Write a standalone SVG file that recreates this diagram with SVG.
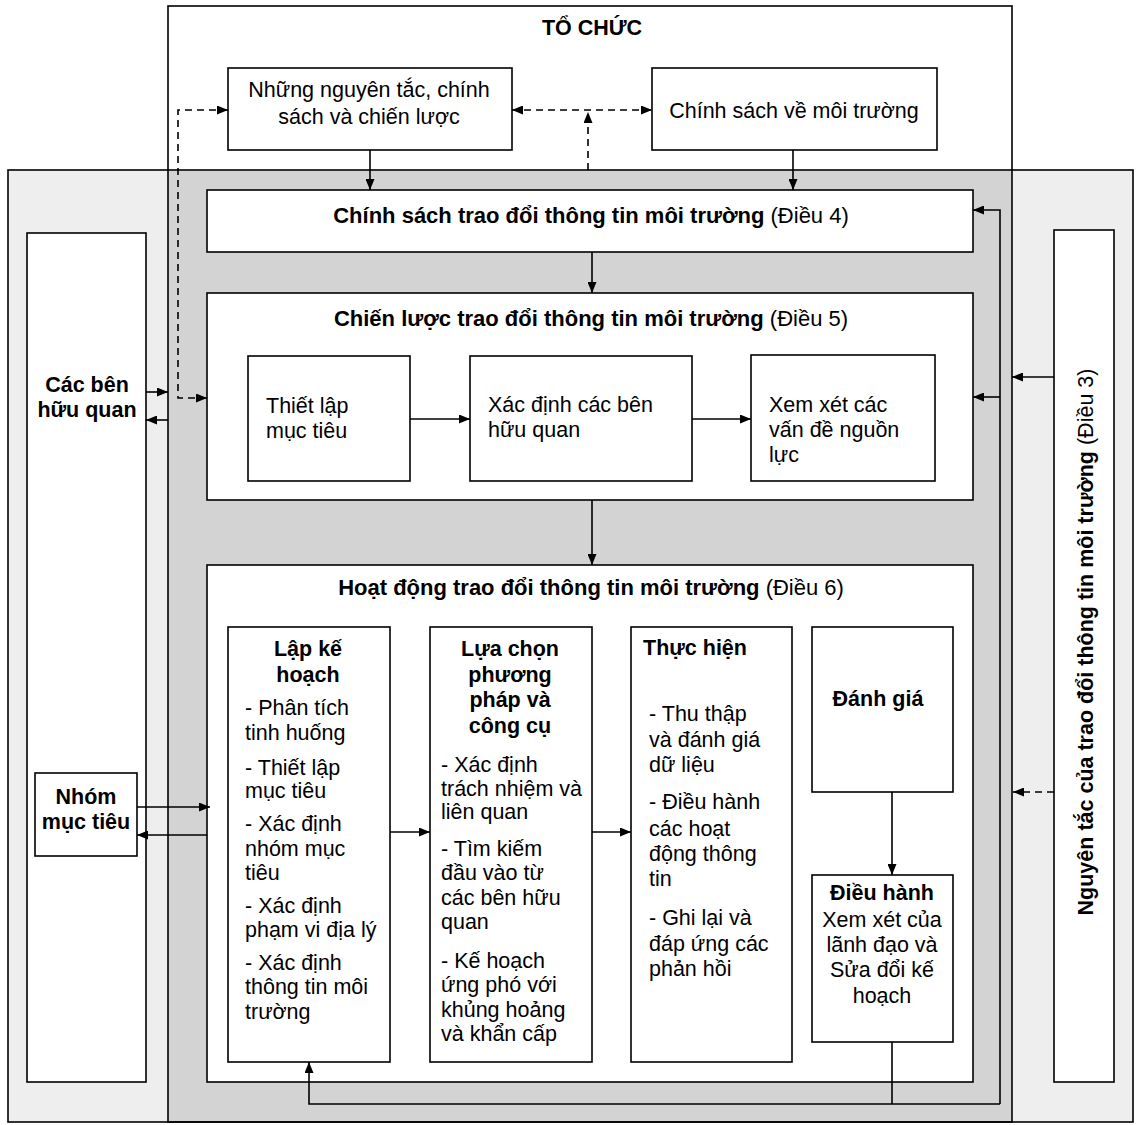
<svg xmlns="http://www.w3.org/2000/svg" width="1138" height="1125" viewBox="0 0 1138 1125">
<defs>
<style>
.box{fill:#fff;stroke:#000;stroke-width:1.6}
.ln{fill:none;stroke:#000;stroke-width:1.6}
.dash{stroke-dasharray:7 5}
text{font-family:"Liberation Sans",Arial,sans-serif;font-size:21.5px;fill:#000}
.b{font-weight:bold}
.h{font-size:22px}
.m{text-anchor:middle}
</style>
<marker id="ah" viewBox="0 0 11 9" refX="11" refY="4.5" markerWidth="11" markerHeight="9" markerUnits="userSpaceOnUse" orient="auto-start-reverse"><path d="M0,0 L11,4.5 L0,9 z" fill="#000"/></marker>
</defs>
<rect x="0" y="0" width="1138" height="1125" fill="#fff"/>
<g id="background">
<rect x="8" y="170" width="1125" height="952" fill="#eeeeee" stroke="#000" stroke-width="1.6"/>
<rect x="168" y="171" width="844" height="950" fill="#d3d3d3"/>
<rect x="168" y="6" width="844" height="1116" fill="none" stroke="#000" stroke-width="1.6"/>
<text class="b m" x="592" y="35">TỔ CHỨC</text>
</g>
<g id="nguyen-tac-chinh-sach">
<rect class="box" x="228" y="68" width="284" height="82"/>
<text class="m" x="369" y="97">Những nguyên tắc, chính</text>
<text class="m" x="369" y="124">sách và chiến lược</text>
</g>
<g id="chinh-sach-moi-truong">
<rect class="box" x="652" y="68" width="285" height="82"/>
<text class="m" x="794" y="118">Chính sách về môi trường</text>
</g>
<g id="chinh-sach-trao-doi">
<rect class="box" x="207" y="190" width="766" height="62"/>
<text class="m h" x="591" y="223"><tspan class="b">Chính sách trao đổi thông tin môi trường</tspan> (Điều 4)</text>
</g>
<g id="chien-luoc">
<rect class="box" x="207" y="293" width="766" height="207"/>
<text class="m h" x="591" y="326"><tspan class="b">Chiến lược trao đổi thông tin môi trường</tspan> (Điều 5)</text>
</g>
<g id="thiet-lap-muc-tieu">
<rect class="box" x="248" y="356" width="162" height="125"/>
<text x="266" y="413">Thiết lập</text>
<text x="266" y="438">mục tiêu</text>
</g>
<g id="xac-dinh-ben-huu-quan">
<rect class="box" x="470" y="356" width="222" height="125"/>
<text x="488" y="412">Xác định các bên</text>
<text x="488" y="437">hữu quan</text>
</g>
<g id="xem-xet-nguon-luc">
<rect class="box" x="751" y="355" width="184" height="126"/>
<text x="769" y="412">Xem xét các</text>
<text x="769" y="437">vấn đề nguồn</text>
<text x="769" y="462">lực</text>
</g>
<g id="hoat-dong">
<rect class="box" x="207" y="565" width="766" height="517"/>
<text class="m h" x="591" y="595"><tspan class="b">Hoạt động trao đổi thông tin môi trường</tspan> (Điều 6)</text>
</g>
<g id="lap-ke-hoach">
<rect class="box" x="228" y="627" width="162" height="435"/>
<text class="b m" x="308" y="656">Lập kế</text>
<text class="b m" x="308" y="682">hoạch</text>
<text x="245" y="715">- Phân tích</text>
<text x="245" y="740">tinh huống</text>
<text x="245" y="775">- Thiết lập</text>
<text x="245" y="798">mục tiêu</text>
<text x="245" y="831">- Xác định</text>
<text x="245" y="856">nhóm mục</text>
<text x="245" y="880">tiêu</text>
<text x="245" y="913">- Xác định</text>
<text x="245" y="937">phạm vi địa lý</text>
<text x="245" y="970">- Xác định</text>
<text x="245" y="994">thông tin môi</text>
<text x="245" y="1019">trường</text>
</g>
<g id="lua-chon">
<rect class="box" x="430" y="627" width="162" height="435"/>
<text class="b m" x="510" y="656">Lựa chọn</text>
<text class="b m" x="510" y="682">phương</text>
<text class="b m" x="510" y="707">pháp và</text>
<text class="b m" x="510" y="733">công cụ</text>
<text x="441" y="772">- Xác định</text>
<text x="441" y="796">trách nhiệm và</text>
<text x="441" y="819">liên quan</text>
<text x="441" y="856">- Tìm kiếm</text>
<text x="441" y="880">đầu vào từ</text>
<text x="441" y="905">các bên hữu</text>
<text x="441" y="929">quan</text>
<text x="441" y="968">- Kế hoạch</text>
<text x="441" y="992">ứng phó với</text>
<text x="441" y="1017">khủng hoảng</text>
<text x="441" y="1041">và khẩn cấp</text>
</g>
<g id="thuc-hien">
<rect class="box" x="631" y="627" width="161" height="435"/>
<text class="b" x="643" y="655">Thực hiện</text>
<text x="649" y="721">- Thu thập</text>
<text x="649" y="747">và đánh giá</text>
<text x="649" y="772">dữ liệu</text>
<text x="649" y="809">- Điều hành</text>
<text x="649" y="836">các hoạt</text>
<text x="649" y="861">động thông</text>
<text x="649" y="886">tin</text>
<text x="649" y="925">- Ghi lại và</text>
<text x="649" y="951">đáp ứng các</text>
<text x="649" y="976">phản hồi</text>
</g>
<g id="danh-gia">
<rect class="box" x="812" y="627" width="141" height="165"/>
<text class="b m" x="878" y="706">Đánh giá</text>
</g>
<g id="dieu-hanh">
<rect class="box" x="812" y="875" width="141" height="167"/>
<text class="b m" x="882" y="900">Điều hành</text>
<text class="m" x="882" y="927">Xem xét của</text>
<text class="m" x="882" y="952">lãnh đạo và</text>
<text class="m" x="882" y="977">Sửa đổi kế</text>
<text class="m" x="882" y="1003">hoạch</text>
</g>
<g id="cac-ben-huu-quan">
<rect class="box" x="27" y="233" width="119" height="849"/>
<text class="b m" x="87" y="392">Các bên</text>
<text class="b m" x="87" y="417">hữu quan</text>
</g>
<g id="nhom-muc-tieu">
<rect class="box" x="35" y="773" width="102" height="83"/>
<text class="b m" x="86" y="804">Nhóm</text>
<text class="b m" x="86" y="829">mục tiêu</text>
</g>
<g id="nguyen-tac-trao-doi">
<rect class="box" x="1054" y="230" width="60" height="852"/>
<text class="m" transform="translate(1093,642) rotate(-90)"><tspan class="b">Nguyên tắc của trao đổi thông tin môi trường</tspan> (Điều 3)</text>
</g>
<g id="connectors">
<path class="ln" d="M370,150 V190" marker-end="url(#ah)"/>
<path class="ln" d="M793,150 V190" marker-end="url(#ah)"/>
<path class="ln" d="M592,252 V293" marker-end="url(#ah)"/>
<path class="ln" d="M592,500 V565" marker-end="url(#ah)"/>
<path class="ln" d="M410,419 H470" marker-end="url(#ah)"/>
<path class="ln" d="M692,419 H751" marker-end="url(#ah)"/>
<path class="ln" d="M390,832 H430" marker-end="url(#ah)"/>
<path class="ln" d="M592,832 H631" marker-end="url(#ah)"/>
<path class="ln" d="M892,792 V875" marker-end="url(#ah)"/>
<path class="ln" d="M892,1042 V1104"/>
<path class="ln" d="M1000,1104 H309 V1062" marker-end="url(#ah)"/>
<path class="ln" d="M1000,1104 V210 H973" marker-end="url(#ah)"/>
<path class="ln" d="M1000,397 H973" marker-end="url(#ah)"/>
<path class="ln dash" d="M512,110 H652" marker-start="url(#ah)" marker-end="url(#ah)"/>
<path class="ln dash" d="M588,170 V112" marker-end="url(#ah)"/>
<path class="ln dash" d="M228,110 H178 V398 H207" marker-start="url(#ah)" marker-end="url(#ah)"/>
<path class="ln" d="M146,392 H168" marker-end="url(#ah)"/>
<path class="ln" d="M168,420 H146" marker-end="url(#ah)"/>
<path class="ln" d="M137,807 H210" marker-end="url(#ah)"/>
<path class="ln" d="M207,835 H137" marker-end="url(#ah)"/>
<path class="ln" d="M1054,377 H1012" marker-end="url(#ah)"/>
<path class="ln dash" d="M1054,792 H1013" marker-end="url(#ah)"/>
</g>
</svg>
